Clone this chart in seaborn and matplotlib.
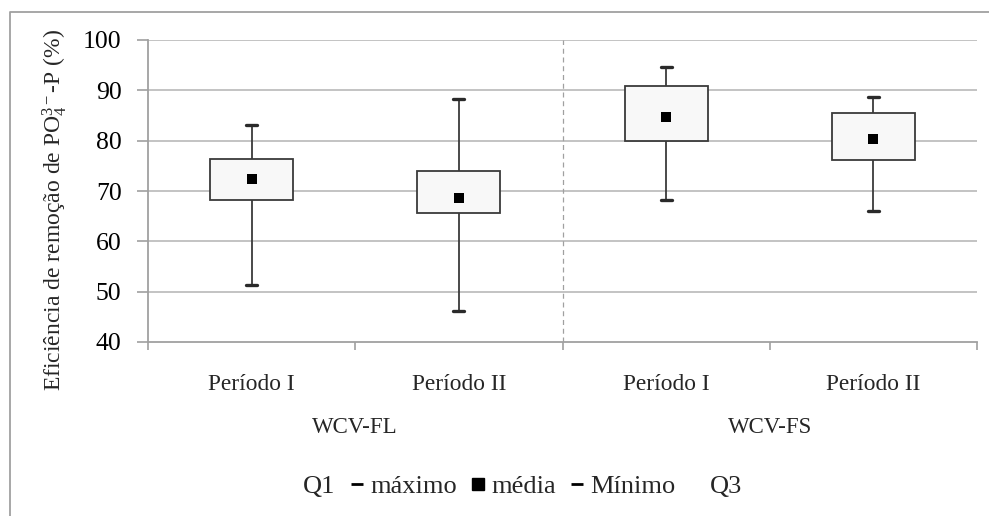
import numpy as np
import pandas as pd
import matplotlib
matplotlib.use("Agg")
import matplotlib.pyplot as plt
from matplotlib.lines import Line2D
import seaborn as sns

# ---- data ----
systems = ["WCV-FL", "WCV-FL", "WCV-FS", "WCV-FS"]
periods = ["Período I", "Período II", "Período I", "Período II"]
minimo = [51.4, 46.1, 68.3, 66.1]
q1 = [68.2, 65.6, 80.0, 76.1]
media = [72.3, 68.7, 84.8, 80.3]
q3 = [76.4, 73.9, 90.8, 85.5]
maximo = [83.2, 88.2, 94.7, 88.7]
yticks = [40, 50, 60, 70, 80, 90, 100]
legend_labels = ["Q1", "máximo", "média", "Mínimo", "Q3"]

keys = [f"{s} | {p}" for s, p in zip(systems, periods)]

# five-number rows: with n=5 the 25th/75th percentiles are exactly Q1/Q3
rows = []
for k, a, b, c, d, e in zip(keys, minimo, q1, media, q3, maximo):
    for v in (a, b, c, d, e):
        rows.append({"cat": k, "val": v})
df = pd.DataFrame(rows)
df_mean = pd.DataFrame({"cat": keys, "media": media})

sns.set_theme(style="white")
plt.rcParams["font.family"] = ["Liberation Serif", "DejaVu Serif"]
plt.rcParams["mathtext.fontset"] = "custom"
plt.rcParams["mathtext.rm"] = "Liberation Serif"
plt.rcParams["mathtext.it"] = "Liberation Serif:italic"
plt.rcParams["mathtext.default"] = "regular"

W, H = 989, 516
fig = plt.figure(figsize=(W / 100, H / 100), dpi=100)
ax = fig.add_axes([148 / W, 1 - 342 / H, (977 - 148) / W, (342 - 40) / H])

grid_c = "#BEBEBE"
for y in yticks[1:]:
    ax.axhline(y, color=grid_c, lw=1.3, zorder=0)

sns.boxplot(
    data=df, x="cat", y="val", order=keys, ax=ax,
    whis=(0, 100), showfliers=False, width=0.4, saturation=1,
    color="#F8F8F8", linecolor="#3A3A3A", linewidth=1.3,
    medianprops={"visible": False},
    whiskerprops={"color": "#3A3A3A", "linewidth": 1.3},
    capprops={"color": "#2A2A2A", "linewidth": 2.4},
    capwidths=0.053,
)
sns.pointplot(
    data=df_mean, x="cat", y="media", order=keys, ax=ax,
    linestyle="none", marker="s", color="black", markersize=7,
    markeredgewidth=0, errorbar=None, zorder=5,
)

ax.set_xlim(-0.5, 3.5)
ax.set_ylim(40, 100)
ax.set_yticks(yticks)
ax.set_yticklabels([str(v) for v in yticks])
ax.tick_params(axis="y", direction="out", length=8, width=1.2, color="#A0A0A0",
               pad=11, labelsize=18.5, labelcolor="black", left=True)

ax.set_xticks(range(len(keys)))
ax.set_xticklabels(periods)
ax.set_xticks(np.arange(-0.5, len(keys), 1.0), minor=True)
ax.tick_params(axis="x", which="major", length=0, pad=23, labelsize=16.8)
ax.tick_params(axis="x", which="minor", direction="out", length=6, width=1.2,
               color="#A0A0A0", bottom=True)
ax.set_xlabel("")
ax.set_ylabel("")

# group separator
ax.axvline(1.5, color="#A0A0A0", lw=0.9, ls=(0, (4, 3)), zorder=0)

# group labels
groups = list(dict.fromkeys(systems))
for gi, g in enumerate(groups):
    idx = [i for i, s in enumerate(systems) if s == g]
    ax.text(np.mean(idx), -0.283, g, transform=ax.get_xaxis_transform(),
            ha="center", va="center", fontsize=16.5)

for side in ["top", "right"]:
    ax.spines[side].set_visible(False)
for side in ["left", "bottom"]:
    ax.spines[side].set_color("#A0A0A0")
    ax.spines[side].set_linewidth(1.3)

fig.text(55 / W, 1 - 210 / H,
         "Eficiência de remoção de PO$_4^{3-}$-P (%)",
         rotation=90, ha="center", va="center", fontsize=17)

# legend
blank = Line2D([], [], linestyle="none", marker=None)
dash = Line2D([], [], linestyle="none", marker="_", color="black",
              markersize=8, markeredgewidth=2)
sq = Line2D([], [], linestyle="none", marker="s", color="black", markersize=8)
fig.legend([blank, dash, sq, dash, blank], legend_labels,
           loc="center", bbox_to_anchor=(512 / W, 1 - 486 / H), ncol=5,
           frameon=False, fontsize=19, handlelength=0.6, handletextpad=0.2,
           columnspacing=0.5)

# outer chart border (partially cut off, as in the reference)
fig.add_artist(Line2D([10 / W, 10 / W, 1.01], [-0.01, 1 - 12 / H, 1 - 12 / H],
                      transform=fig.transFigure, color="#A0A0A0", lw=1.3))

fig.savefig("out.png", dpi=100)
